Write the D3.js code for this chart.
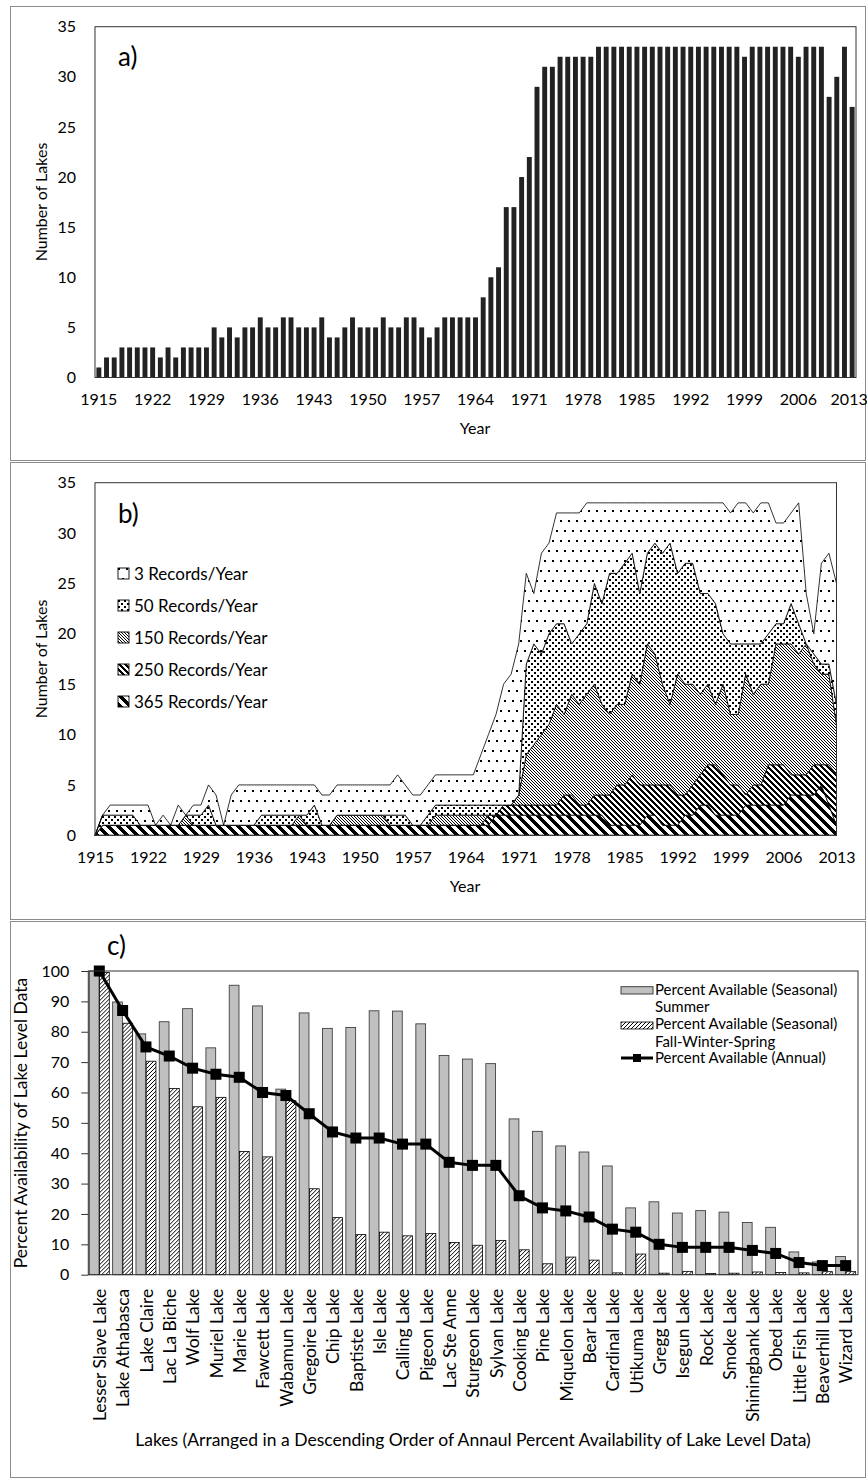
<!DOCTYPE html>
<html lang="en">
<head>
<meta charset="utf-8">
<title>Lake level records</title>
<style>
  body { margin: 0; background: #fff; }
  svg text { font-family: Lato, "Open Sans", sans-serif; fill: #000; }
  .tick text { font-size: 16px; }
  .title { font-size: 16px; }
  .panelc .tick text, .panelc-title { font-size: 17.5px; }
  .panelc-y .tick text { font-size: 16px; }
</style>
</head>
<body>
<div id="container"></div>
<script src="https://cdnjs.cloudflare.com/ajax/libs/d3/7.8.5/d3.min.js"></script>
<script>
// ---- data ----
var years = d3.range(1915, 2014);
var yearTicks = [1915, 1922, 1929, 1936, 1943, 1950, 1957, 1964, 1971, 1978, 1985, 1992, 1999, 2006, 2013];

// a) number of lakes with records
var lakesPerYear = [
  1,2,2,3,3,3,3,3,2,3,
  2,3,3,3,3,5,4,5,4,5,
  5,6,5,5,6,6,5,5,5,6,
  4,4,5,6,5,5,5,6,5,5,
  6,6,5,4,5,6,6,6,6,6,
  8,10,11,17,17,20,22,29,31,31,
  32,32,32,32,32,33,33,33,33,33,
  33,33,33,33,33,33,33,33,33,33,
  33,33,33,33,32,33,33,33,33,33,
  33,32,33,33,33,28,30,33,27];

// b) lakes by number of records per year
var rec365 = [
  0,1,1,1,1,1,1,1,1,1, 1,1,1,1,1,1,1,1,1,1, 1,1,1,1,1,1,1,1,1,1,
  1,1,1,1,1,1,1,1,1,1, 1,1,1,1,1,1,1,1,1,1, 1,1,1,2,2,2,2,2,2,2,
  2,2,2,2,2,2,2,2,1,1, 1,1,1,2,2,1,1,1,2,2, 3,3,2,2,2,2,3,3,3,3,
  3,3,4,4,4,4,5,3,1];
var rec250 = [
  0,0,0,0,0,0,0,0,0,0, 0,0,0,0,0,0,0,0,0,0, 0,0,0,0,0,0,0,0,0,0,
  0,0,0,0,0,0,0,0,0,0, 0,0,0,0,0,0,0,0,0,0, 0,0,1,0,1,1,1,1,1,1,
  1,1,2,2,1,1,2,2,3,4, 4,5,4,3,3,4,4,3,2,3, 3,4,5,4,3,3,1,2,2,4,
  4,4,2,2,2,3,2,4,5];
var rec150 = [
  0,0,0,0,0,0,0,0,0,0, 0,0,1,0,0,0,0,0,0,0, 0,0,0,0,0,0,0,1,0,0,
  0,0,1,1,1,1,1,1,1,0, 0,0,0,0,0,1,1,1,1,1, 1,1,0,0,0,0,1,5,6,7,
  8,10,8,10,10,11,11,9,8,8, 8,10,10,14,13,10,8,12,11,10, 8,8,6,9,7,7,12,9,10,8,
  12,12,13,12,13,10,9,9,5];
var rec50 = [
  0,1,1,1,1,1,0,0,0,0, 0,0,0,1,1,2,0,0,0,0, 0,0,1,1,1,1,1,0,1,2,
  0,0,0,0,0,0,0,0,0,1, 1,1,0,0,1,1,1,1,1,1, 1,1,1,1,0,0,0,9,10,8,
  9,8,9,5,7,7,10,10,14,13, 14,12,9,9,11,13,16,10,12,12, 10,9,10,5,7,7,3,5,4,5,
  2,2,4,3,0,1,1,1,2];
var rec3 = [
  0,0,1,1,1,1,2,2,0,1, 0,2,0,1,1,2,3,0,3,4, 4,4,3,3,3,3,3,3,3,2,
  3,3,3,3,3,3,3,3,3,3, 4,3,3,3,3,3,3,3,3,3, 3,5,7,9,12,13,15,9,5,10,
  9,11,11,13,12,12,8,10,7,7, 6,5,9,5,4,5,4,7,6,6, 9,9,10,13,13,14,14,13,14,13,
  10,10,9,12,5,2,10,11,12];
var recordKeys = ["r365", "r250", "r150", "r50", "r3"];
var recordLabels = ["3 Records/Year", "50 Records/Year", "150 Records/Year", "250 Records/Year", "365 Records/Year"];

// c) percent availability per lake
var lakeNames = ["Lesser Slave Lake","Lake Athabasca","Lake Claire","Lac La Biche","Wolf Lake","Muriel Lake",
  "Marie Lake","Fawcett Lake","Wabamun Lake","Gregoire Lake","Chip Lake","Baptiste Lake","Isle Lake",
  "Calling Lake","Pigeon Lake","Lac Ste Anne","Sturgeon Lake","Sylvan Lake","Cooking Lake","Pine Lake",
  "Miquelon Lake","Bear Lake","Cardinal Lake","Utikuma Lake","Gregg Lake","Isegun Lake","Rock Lake",
  "Smoke Lake","Shiningbank Lake","Obed Lake","Little Fish Lake","Beaverhill Lake","Wizard Lake"];
var summerPct = [100,89.8,79.3,83.3,87.6,74.7,95.3,88.5,61.1,86.2,81.1,81.4,86.9,86.8,82.6,72.2,71.0,
  69.5,51.3,47.2,42.4,40.4,35.8,22.0,24.0,20.3,21.1,20.6,17.2,15.6,7.5,4.2,6.0];
var fwsPct = [99.5,82.8,70.3,61.3,55.3,58.4,40.6,38.8,57.3,28.3,18.8,13.2,14.0,12.8,13.6,10.6,9.7,
  11.3,8.2,3.6,5.8,4.8,0.6,6.8,0.5,1.1,0.4,0.5,0.9,0.7,0.6,1.0,1.0];
var annualPct = [100,87,75,72,68,66,65,60,59,53,47,45,45,43,43,37,36,36,26,22,21,19,15,14,10,9,9,9,8,7,4,3,3];

// ---- page ----
var svg = d3.select("#container").append("svg")
  .attr("width", 867)
  .attr("height", 1480);
var defs = svg.append("defs");

// pixel aligned diagonal stripes; dir 1 = "\", -1 = "/"
function diag(id, period, black, dir) {
  var p = defs.append("pattern").attr("id", id)
    .attr("patternUnits", "userSpaceOnUse")
    .attr("width", period).attr("height", period)
    .attr("shape-rendering", "crispEdges");
  p.append("rect").attr("width", period).attr("height", period).attr("fill", "#fff");
  for (var y = 0; y < period; y++) {
    for (var k = 0; k < black; k++) {
      var x = dir > 0 ? (y + k) % period : (period - 1 - y + k) % period;
      p.append("rect").attr("x", x).attr("y", y).attr("width", 1).attr("height", 1).attr("fill", "#000");
    }
  }
}
function dots(id, w, h, size) {
  var p = defs.append("pattern").attr("id", id)
    .attr("patternUnits", "userSpaceOnUse")
    .attr("width", w).attr("height", h)
    .attr("shape-rendering", "crispEdges");
  p.append("rect").attr("width", w).attr("height", h).attr("fill", "#fff");
  p.append("rect").attr("x", 0).attr("y", 0).attr("width", size).attr("height", size).attr("fill", "#000");
  p.append("rect").attr("x", w / 2).attr("y", h / 2).attr("width", size).attr("height", size).attr("fill", "#000");
}
diag("p365", 10, 5, 1);
diag("p250", 6, 3, 1);
diag("p150", 3, 1, 1);
dots("p50", 6, 6, 2);
dots("p3", 8, 20, 2);
diag("hatchC", 4, 1, -1);

function cleanAxis(g) {
  g.select(".domain").remove();
  g.selectAll(".tick line").attr("stroke", "#333");
}

// panel frames
[[6.5, 454], [462.5, 457], [921.5, 556]].forEach(function(f) {
  svg.append("rect").attr("x", 10.5).attr("y", f[0]).attr("width", 855).attr("height", f[1])
    .attr("fill", "none").attr("stroke", "#8c8c8c");
});

// ---- a) ----
var ax = d3.scaleBand().domain(years).range([95, 856]).paddingInner(0.36).paddingOuter(0.18);
var ay = d3.scaleLinear().domain([0, 35]).range([377.5, 26.7]);

svg.append("g").selectAll("rect")
  .data(lakesPerYear)
  .enter()
  .append("rect")
  .attr("x", function(d, i) { return ax(years[i]); })
  .attr("y", function(d) { return ay(d); })
  .attr("width", ax.bandwidth())
  .attr("height", function(d) { return ay(0) - ay(d); })
  .attr("fill", "#222");

var axA = svg.append("g").attr("transform", "translate(0,377.5)")
  .call(d3.axisBottom(ax).tickValues(yearTicks).tickSize(0).tickPadding(16))
  .call(cleanAxis);
axA.selectAll(".tick text").filter(function(d) { return d === 2013; }).attr("dx", -3);
svg.append("g").attr("transform", "translate(95,0)")
  .call(d3.axisLeft(ay).tickValues(d3.range(0, 36, 5)).tickSize(0).tickPadding(19))
  .call(cleanAxis);
svg.append("rect").attr("x", 95).attr("y", 26.7).attr("width", 761).attr("height", 350.8)
  .attr("fill", "none").attr("stroke", "#333");

svg.append("text").attr("x", 118).attr("y", 66).style("font-size", "26px").text("a)");
svg.append("text").attr("class", "title").attr("x", 475).attr("y", 434)
  .attr("text-anchor", "middle").text("Year");
svg.append("text").attr("class", "title").attr("transform", "translate(47,202) rotate(-90)")
  .attr("text-anchor", "middle").text("Number of Lakes");

// ---- b) ----
var bx = d3.scalePoint().domain(years).range([95, 836.5]);
var by = d3.scaleLinear().domain([0, 35]).range([835.3, 482.7]);

var rows = years.map(function(yr, i) {
  return { year: yr, r365: rec365[i], r250: rec250[i], r150: rec150[i], r50: rec50[i], r3: rec3[i] };
});
var stacked = d3.stack().keys(recordKeys)(rows);
var area = d3.area()
  .x(function(d) { return bx(d.data.year); })
  .y0(function(d) { return by(d[0]); })
  .y1(function(d) { return by(d[1]); });
var fills = { r365: "url(#p365)", r250: "url(#p250)", r150: "url(#p150)", r50: "url(#p50)", r3: "url(#p3)" };

svg.append("g").selectAll("path")
  .data(stacked)
  .enter()
  .append("path")
  .attr("d", area)
  .attr("fill", function(d) { return fills[d.key]; })
  .attr("stroke", "#000")
  .attr("stroke-width", 0.8)
  .attr("stroke-linejoin", "round");

svg.append("g").attr("transform", "translate(0,835.3)")
  .call(d3.axisBottom(bx).tickValues(yearTicks).tickSize(0).tickPadding(16))
  .call(cleanAxis);
svg.append("g").attr("transform", "translate(95,0)")
  .call(d3.axisLeft(by).tickValues(d3.range(0, 36, 5)).tickSize(0).tickPadding(19))
  .call(cleanAxis);
svg.append("rect").attr("x", 95).attr("y", 482.7).attr("width", 741.5).attr("height", 352.6)
  .attr("fill", "none").attr("stroke", "#333");

svg.append("text").attr("x", 118).attr("y", 523).style("font-size", "26px").text("b)");
svg.append("text").attr("class", "title").attr("x", 465).attr("y", 892)
  .attr("text-anchor", "middle").text("Year");
svg.append("text").attr("class", "title").attr("transform", "translate(47,659) rotate(-90)")
  .attr("text-anchor", "middle").text("Number of Lakes");

var legendB = svg.append("g").selectAll("g")
  .data(["r3", "r50", "r150", "r250", "r365"])
  .enter()
  .append("g")
  .attr("transform", function(d, i) { return "translate(118," + (568 + i * 32) + ")"; });
legendB.append("rect").attr("width", 11).attr("height", 11)
  .attr("fill", function(d) { return fills[d]; })
  .attr("stroke", "#000").attr("stroke-width", 0.9);
legendB.append("text").attr("x", 16).attr("y", 5.5).attr("dy", "0.36em")
  .style("font-size", "17px")
  .text(function(d, i) { return recordLabels[i]; });

// ---- c) ----
var cx = d3.scaleBand().domain(lakeNames).range([88.3, 858]);
var cSub = d3.scaleBand().domain(["summer", "fws"]).range([1, 21]).paddingInner(0.05);
var cy = d3.scaleLinear().domain([0, 100]).range([1274.7, 971]);

var groups = svg.append("g").selectAll("g")
  .data(lakeNames)
  .enter()
  .append("g")
  .attr("transform", function(d) { return "translate(" + cx(d) + ",0)"; });
groups.append("rect")
  .attr("x", cSub("summer"))
  .attr("y", function(d, i) { return cy(summerPct[i]); })
  .attr("width", cSub.bandwidth())
  .attr("height", function(d, i) { return cy(0) - cy(summerPct[i]); })
  .attr("fill", "#c0c0c0").attr("stroke", "#404040").attr("stroke-width", 0.9);
groups.append("rect")
  .attr("x", cSub("fws"))
  .attr("y", function(d, i) { return cy(fwsPct[i]); })
  .attr("width", cSub.bandwidth())
  .attr("height", function(d, i) { return cy(0) - cy(fwsPct[i]); })
  .attr("fill", "url(#hatchC)").attr("stroke", "#000").attr("stroke-width", 0.8);

var annualLine = d3.line()
  .x(function(d, i) { return cx(lakeNames[i]) + 11; })
  .y(function(d) { return cy(d); });
svg.append("path").datum(annualPct)
  .attr("d", annualLine)
  .attr("fill", "none").attr("stroke", "#000").attr("stroke-width", 3);
svg.append("g").selectAll("rect")
  .data(annualPct)
  .enter()
  .append("rect")
  .attr("x", function(d, i) { return cx(lakeNames[i]) + 11 - 5.5; })
  .attr("y", function(d) { return cy(d) - 5.5; })
  .attr("width", 11).attr("height", 11)
  .attr("fill", "#000");

svg.append("g").attr("class", "panelc-y").attr("transform", "translate(88.3,0)")
  .call(d3.axisLeft(cy).tickValues(d3.range(0, 101, 10)).tickSizeInner(7).tickSizeOuter(0).tickPadding(12))
  .call(cleanAxis);
var cxAxis = svg.append("g").attr("class", "panelc").attr("transform", "translate(0,1274.7)")
  .call(d3.axisBottom(cx).tickSize(0))
  .call(cleanAxis);
cxAxis.selectAll("text")
  .attr("transform", "rotate(-90)")
  .attr("x", -14)
  .attr("y", 0)
  .attr("dy", "0.35em")
  .style("text-anchor", "end");
svg.append("rect").attr("x", 88.3).attr("y", 971).attr("width", 769.7).attr("height", 303.7)
  .attr("fill", "none").attr("stroke", "#333");

svg.append("text").attr("x", 107).attr("y", 955).style("font-size", "26px").text("c)");
svg.append("text").attr("class", "panelc-title").attr("x", 473).attr("y", 1446)
  .attr("text-anchor", "middle")
  .text("Lakes (Arranged in a Descending Order of Annaul Percent Availability of Lake Level Data)");
svg.append("text").attr("class", "panelc-title").attr("transform", "translate(27,1123) rotate(-90)")
  .attr("text-anchor", "middle").text("Percent Availability of Lake Level Data");

// legend c
var legC = svg.append("g").style("font-size", "15px");
legC.append("rect").attr("x", 621).attr("y", 986.7).attr("width", 32).attr("height", 7.3)
  .attr("fill", "#c0c0c0").attr("stroke", "#404040");
legC.append("text").attr("x", 655).attr("y", 995).text("Percent Available (Seasonal)");
legC.append("text").attr("x", 655).attr("y", 1011.7).text("Summer");
legC.append("rect").attr("x", 621).attr("y", 1022).attr("width", 32).attr("height", 7)
  .attr("fill", "url(#hatchC)").attr("stroke", "#000").attr("stroke-width", 0.8);
legC.append("text").attr("x", 655).attr("y", 1029).text("Percent Available (Seasonal)");
legC.append("text").attr("x", 655).attr("y", 1046.5).text("Fall-Winter-Spring");
legC.append("line").attr("x1", 621).attr("x2", 653).attr("y1", 1058).attr("y2", 1058)
  .attr("stroke", "#000").attr("stroke-width", 3);
legC.append("rect").attr("x", 633).attr("y", 1054).attr("width", 8).attr("height", 8).attr("fill", "#000");
legC.append("text").attr("x", 655).attr("y", 1063).text("Percent Available (Annual)");
</script>
</body>
</html>
